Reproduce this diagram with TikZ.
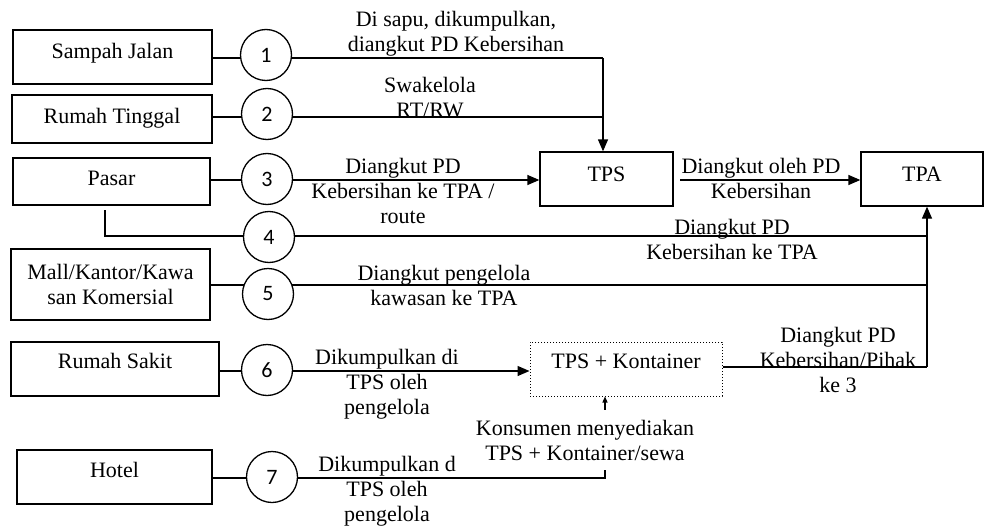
\documentclass[tikz,border=0pt]{standalone}
\usepackage{fontspec}
\setmainfont{Liberation Serif}
\newfontfamily\serifx{Liberation Serif}
\newfontfamily\numfont{Carlito}
\usetikzlibrary{arrows.meta,backgrounds}
\begin{document}
\begin{tikzpicture}[x=1pt,y=-1pt,
  font=\serifx\fontsize{22}{25}\selectfont,
  box/.style={draw, line width=1.3pt, inner sep=0pt, text height=16pt},
  box2/.style={draw, line width=1.3pt, inner sep=0pt, align=center},
  num/.style={draw, circle, line width=1.3pt, minimum size=51pt, inner sep=0pt, fill=white, font=\numfont\fontsize{22}{25}\selectfont},
  lbl/.style={align=center, inner sep=0pt},
  ln/.style={line width=1.3pt},
  arr/.style={ln, -{Triangle[length=12pt,width=10pt]}},
  smallarr/.style={ln, -{Triangle[length=6pt,width=5pt]}},
]
\useasboundingbox (0,0) rectangle (985,527);

% boxes
\node[box, minimum width=199pt, minimum height=54pt, text depth=13.4pt] (sj) at (112.5,57) {Sampah Jalan};
\node[box, minimum width=200pt, minimum height=48pt, text depth=7.4pt] (rt) at (112,119) {Rumah Tinggal};
\node[box, minimum width=197pt, minimum height=47pt, text depth=7.4pt] (pa) at (111.5,181.5) {Pasar};
\node[box2, minimum width=199pt, minimum height=71pt] (mk) at (110.5,284.5) {Mall/Kantor/Kawa\\san Komersial};
\node[box, minimum width=208pt, minimum height=54pt, text depth=16.4pt] (rs) at (115,369) {Rumah Sakit};
\node[box, minimum width=195pt, minimum height=54pt, text depth=15.4pt] (ho) at (114.5,477) {Hotel};
\node[box, minimum width=133pt, minimum height=54pt, text depth=11.4pt] (tps) at (606.5,179) {TPS};
\node[box, minimum width=122pt, minimum height=54pt, text depth=11.4pt] (tpa) at (922,179) {TPA};
\node[box, line width=1pt, dotted, minimum width=192pt, minimum height=54pt, text depth=16.4pt] (tpsk) at (626,369) {TPS + Kontainer};

% circles
\node[num] (c1) at (266,55) {1};
\node[num] (c2) at (267,114) {2};
\node[num] (c3) at (267,179) {3};
\node[num] (c4) at (269,237) {4};
\node[num] (c5) at (268,294) {5};
\node[num] (c6) at (267,370) {6};
\node[num] (c7) at (272,477) {7};

% helper coordinates
\coordinate (j1) at (603,58);
\coordinate (j2) at (603,117);
\coordinate (y3) at (0,180);
\coordinate (p4a) at (105,210);
\coordinate (p4b) at (105,236);
\coordinate (p4c) at (927,236);
\coordinate (y5) at (0,285);
\coordinate (p5) at (927,285);
\coordinate (v1) at (927,367);
\coordinate (y6) at (0,371);
\coordinate (s1) at (680,180);
\coordinate (y7) at (0,478);
\coordinate (j7) at (605,478);

% labels
\node[lbl] (t1) at (456,34) {Di sapu, dikumpulkan,\\diangkut PD Kebersihan};
\node[lbl] (t2) at (430,97.5) {Swakelola\\RT/RW};
\node[lbl] (t3) at (403,190.5) {Diangkut PD\\Kebersihan ke TPA /\\route};
\node[lbl] (t4) at (761,178) {Diangkut oleh PD\\Kebersihan};
\node[lbl] (t5) at (732,239.5) {Diangkut PD\\Kebersihan ke TPA};
\node[lbl] (t6) at (444,285.5) {Diangkut pengelola\\kawasan ke TPA};
\node[lbl] (t7) at (838,360) {Diangkut PD\\Kebersihan/Pihak\\ke 3};
\node[lbl] (t8) at (387,384.5) {Dikumpulkan di\\TPS oleh\\pengelola};
\node[lbl, fill=white, inner ysep=9.5pt] (t9) at (585,440) {Konsumen menyediakan\\TPS + Kontainer/sewa};
\node[lbl] (t10) at (387,491.5) {Dikumpulkan d\\TPS oleh\\pengelola};

\begin{scope}[on background layer]
\draw[ln] (sj.east |- j1) -- (j1);
\draw[arr] (j1) -- (tps.north -| j1);
\draw[ln] (rt.east |- j2) -- (j2);
\draw[arr] (pa.east |- y3) -- (tps.west |- y3);
\draw[ln] (p4a) -- (p4b) -- (p4c);
\draw[ln] (mk.east |- y5) -- (p5);
\draw[arr] (v1) -- (tpa.south -| v1);
\draw[arr] (rs.east |- y6) -- (tpsk.west |- y6);
\draw[ln] (tpsk.east |- v1) -- (v1);
\draw[arr] (s1) -- (tpa.west |- s1);
\draw[smallarr] (ho.east |- y7) -- (j7) -- (tpsk.south -| j7);
\end{scope}
\end{tikzpicture}
\end{document}
